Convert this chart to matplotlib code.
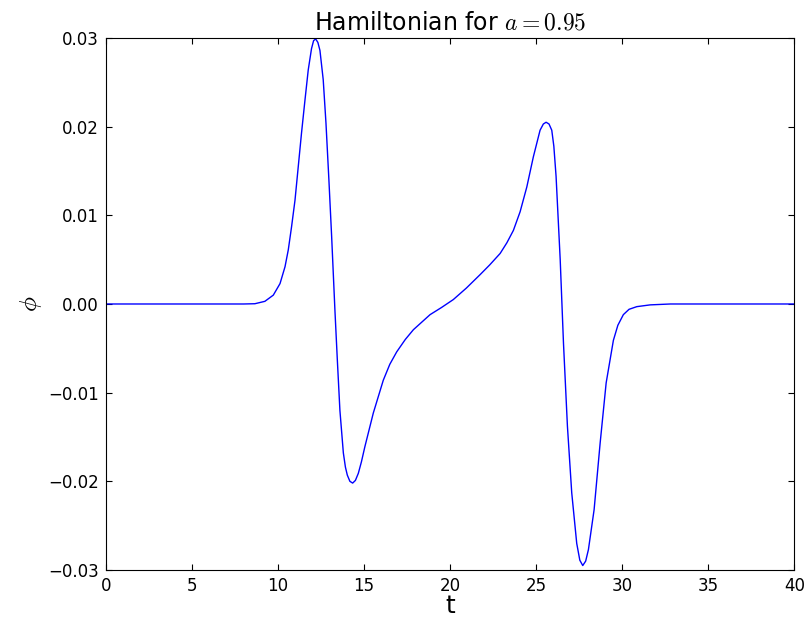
import matplotlib
matplotlib.use("Agg")
import matplotlib.pyplot as plt

plt.rcParams['mathtext.fontset'] = 'cm'
plt.rcParams['font.family'] = ['DejaVu Sans']

# phi(t)
t = [0.0, 8.0, 8.66, 9.24, 9.73, 10.12, 10.41, 10.60, 10.79, 10.99, 11.18,
     11.37, 11.57, 11.76, 11.95, 12.07, 12.19, 12.32, 12.44, 12.63, 12.79,
     12.96, 13.12, 13.31, 13.45, 13.60, 13.80, 13.92, 14.03, 14.18, 14.34,
     14.50, 14.67, 14.85, 15.05, 15.54, 16.12, 16.50, 16.90, 17.40, 17.87,
     18.84, 19.50, 20.19, 20.95, 21.74, 22.30, 22.91, 23.30, 23.68, 24.07,
     24.46, 24.84, 25.23, 25.42, 25.58, 25.75, 25.91, 26.03, 26.16, 26.40,
     26.59, 26.82, 27.07, 27.36, 27.54, 27.71, 27.88, 28.04, 28.37, 28.72,
     29.07, 29.49, 29.75, 30.07, 30.40, 30.85, 31.63, 32.8, 40.0]
phi = [0.0, 0.0, 0.00003, 0.0003, 0.0010, 0.0023, 0.0042, 0.0061, 0.0087,
       0.0117, 0.0155, 0.0193, 0.0230, 0.0264, 0.0288, 0.0297, 0.0299,
       0.0295, 0.0286, 0.0253, 0.0204, 0.0140, 0.0076, -0.0007, -0.0063,
       -0.0120, -0.0168, -0.0184, -0.0193, -0.0200, -0.0202, -0.0199,
       -0.0191, -0.0178, -0.0161, -0.0123, -0.0086, -0.0068, -0.0054,
       -0.0040, -0.0029, -0.0012, -0.0004, 0.0005, 0.0018, 0.0033, 0.0044,
       0.0057, 0.0069, 0.0083, 0.0104, 0.0132, 0.0166, 0.0196, 0.0203,
       0.0205, 0.0203, 0.0196, 0.0178, 0.0144, 0.0050, -0.0044, -0.0138,
       -0.0213, -0.0270, -0.0289, -0.0295, -0.0290, -0.0277, -0.0232,
       -0.0157, -0.0089, -0.0041, -0.0024, -0.0012, -0.0006, -0.0003,
       -0.0001, 0.0, 0.0]

fig = plt.figure(figsize=(8.08, 6.19), dpi=100)
ax = fig.add_axes([0.131, 0.0792, 0.852, 0.8594])
ax.plot(t, phi, color='#0000ff', linewidth=1.0)

ax.set_xlim(0, 40)
ax.set_ylim(-0.03, 0.03)
ax.set_xticks(range(0, 41, 5))
ax.set_yticks([-0.03, -0.02, -0.01, 0.0, 0.01, 0.02, 0.03])
ax.tick_params(direction='in', top=True, right=True, length=4,
               labelsize=12, pad=5)
ax.set_title(r'Hamiltonian for $a=0.95$', fontsize=17)
ax.set_xlabel('t', fontsize=18, labelpad=-1)
ax.set_ylabel(r'$\phi$', fontsize=18, labelpad=3)

fig.savefig('out.png', dpi=100)
